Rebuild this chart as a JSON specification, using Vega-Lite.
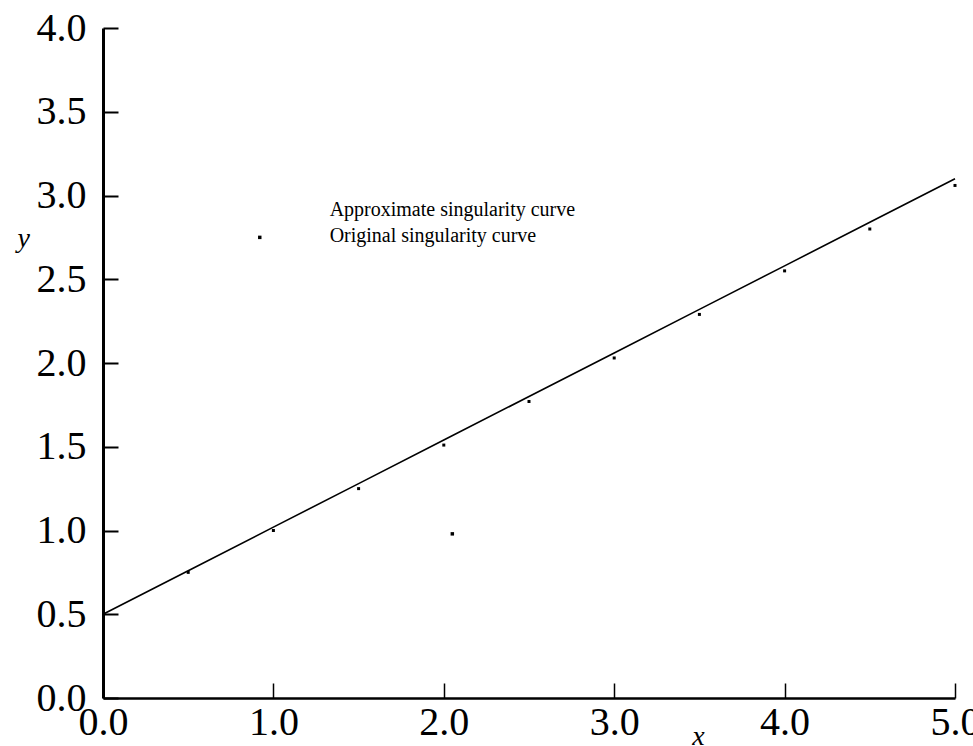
{
  "$schema": "https://vega.github.io/schema/vega-lite/v6.json",
  "width": 852,
  "height": 670,
  "autosize": {"type": "none"},
  "padding": {"left": 103, "top": 28, "right": 18, "bottom": 48},
  "background": "white",
  "config": {
    "view": {"stroke": null},
    "font": "Liberation Serif"
  },
  "datasets": {
    "approx": [
      {"x": 0.0, "y": 0.50}, {"x": 0.5, "y": 0.76}, {"x": 1.0, "y": 1.02},
      {"x": 1.5, "y": 1.28}, {"x": 2.0, "y": 1.54}, {"x": 2.5, "y": 1.80},
      {"x": 3.0, "y": 2.06}, {"x": 3.5, "y": 2.32}, {"x": 4.0, "y": 2.58},
      {"x": 4.5, "y": 2.84}, {"x": 5.0, "y": 3.10}
    ],
    "original": [
      {"x": 0.5, "y": 0.75}, {"x": 1.0, "y": 1.00}, {"x": 1.5, "y": 1.25},
      {"x": 2.0, "y": 1.51}, {"x": 2.5, "y": 1.77}, {"x": 3.0, "y": 2.03},
      {"x": 3.5, "y": 2.29}, {"x": 4.0, "y": 2.55}, {"x": 4.5, "y": 2.80},
      {"x": 5.0, "y": 3.06}
    ],
    "extra": [
      {"x": 0.92, "y": 2.75}, {"x": 2.05, "y": 0.98}
    ],
    "legend": [
      {"x": 1.33, "y": 2.88, "label": "Approximate singularity curve"},
      {"x": 1.33, "y": 2.72, "label": "Original singularity curve"}
    ]
  },
  "encoding": {
    "x": {
      "field": "x", "type": "quantitative",
      "scale": {"domain": [0, 5], "nice": false, "zero": false},
      "axis": {
        "title": "x", "titleFont": "Liberation Serif", "titleFontStyle": "italic", "titleFontWeight": "normal",
        "titleFontSize": 28, "titleColor": "black", "titleX": 595, "titleY": 46, "titleAlign": "center", "titleBaseline": "alphabetic",
        "values": [0, 1, 2, 3, 4, 5], "format": ".1f",
        "grid": false, "domainColor": "black", "domainWidth": 2.5,
        "tickColor": "black", "tickWidth": 1.5, "tickSize": -15,
        "labelFont": "Liberation Serif", "labelFontSize": 40, "labelColor": "black",
        "labelFlush": false, "labelOverlap": false, "labelPadding": 19, "labelBaseline": "top"
      }
    },
    "y": {
      "field": "y", "type": "quantitative",
      "scale": {"domain": [0, 4], "nice": false, "zero": false},
      "axis": {
        "title": "y", "titleFont": "Liberation Serif", "titleFontStyle": "italic", "titleFontWeight": "normal",
        "titleFontSize": 28, "titleColor": "black", "titleAngle": 0, "titleX": -86, "titleY": 218, "titleAlign": "left", "titleBaseline": "alphabetic",
        "values": [0, 0.5, 1, 1.5, 2, 2.5, 3, 3.5, 4], "format": ".1f",
        "grid": false, "domainColor": "black", "domainWidth": 3,
        "tickColor": "black", "tickWidth": 2, "tickSize": -15,
        "labelFont": "Liberation Serif", "labelFontSize": 40, "labelColor": "black",
        "labelFlush": false, "labelOverlap": false, "labelPadding": 32
      }
    }
  },
  "layer": [
    {
      "data": {"name": "approx"},
      "mark": {"type": "line", "color": "black", "strokeWidth": 1.6}
    },
    {
      "data": {"name": "original"},
      "mark": {"type": "point", "shape": "square", "filled": true, "color": "black", "size": 9, "opacity": 1}
    },
    {
      "data": {"name": "extra"},
      "mark": {"type": "point", "shape": "square", "filled": true, "color": "black", "size": 12, "opacity": 1}
    },
    {
      "data": {"name": "legend"},
      "mark": {"type": "text", "align": "left", "baseline": "alphabetic", "font": "Liberation Serif", "fontSize": 20, "color": "black"},
      "encoding": {"text": {"field": "label"}}
    }
  ]
}
